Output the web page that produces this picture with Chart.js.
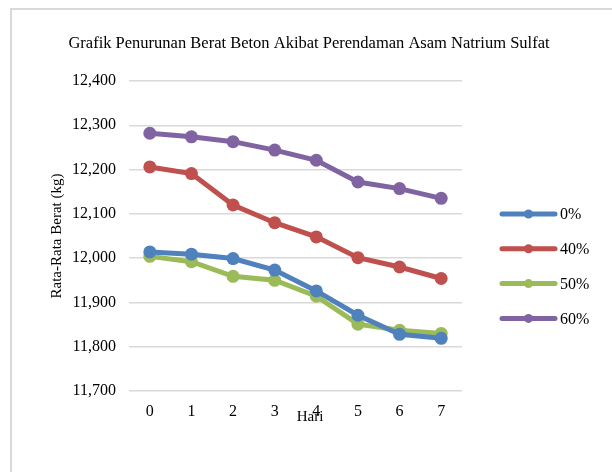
<!DOCTYPE html>
<html>
<head>
<meta charset="utf-8">
<script src="https://cdn.jsdelivr.net/npm/chart.js@4"></script>
<style>
  body { margin: 0; background: #fff; }
  #frame { position: absolute; left: 10px; top: 8px; width: 700px; height: 600px;
           border-top: 2px solid #d9d9d9; border-left: 2px solid #d9d9d9; }
  #wrap { position: absolute; left: 0; top: 0; width: 612px; height: 472px; }
</style>
</head>
<body>
<div id="frame"></div>
<div id="wrap"><canvas id="chart" width="612" height="472"></canvas></div>
<script>
const days = ['0', '1', '2', '3', '4', '5', '6', '7'];
const seriesNames = ['0%', '40%', '50%', '60%'];
const seriesColors = ['#4f81bd', '#c0504d', '#9bbb59', '#8064a2'];
const s0 = [12014, 12009, 11999, 11973, 11926, 11871, 11828, 11819];
const s40 = [12206, 12191, 12120, 12080, 12048, 12001, 11980, 11954];
const s50 = [12004, 11992, 11959, 11950, 11914, 11851, 11837, 11830];
const s60 = [12282, 12274, 12263, 12244, 12221, 12172, 12157, 12135];
const values = [s0, s40, s50, s60];

const chartTitle = 'Grafik Penurunan Berat Beton Akibat Perendaman Asam Natrium Sulfat';
const xTitle = 'Hari';
const font = 'Liberation Serif';

// title, x title and legend drawn by hand so they sit where the spreadsheet put them
const extras = {
  id: 'extras',
  afterDraw(chart) {
    const c = chart.ctx;
    c.save();
    c.fillStyle = '#000';
    c.textAlign = 'center';
    c.textBaseline = 'middle';
    c.font = '16.5px "' + font + '"';
    c.fillText(chartTitle, 309, 44);
    c.font = '15px "' + font + '"';
    c.fillText(xTitle, 310, 417);
    c.restore();

    chart.data.datasets.forEach((ds, i) => {
      const y = 214 + i * 34.8;
      c.save();
      c.strokeStyle = ds.borderColor;
      c.lineWidth = 5;
      c.lineCap = 'round';
      c.beginPath();
      c.moveTo(502, y);
      c.lineTo(555, y);
      c.stroke();
      c.fillStyle = ds.borderColor;
      c.beginPath();
      c.arc(528.5, y, 4.5, 0, Math.PI * 2);
      c.fill();
      c.fillStyle = '#000';
      c.font = '16px "' + font + '"';
      c.textBaseline = 'middle';
      c.fillText(ds.label, 560, y + 1);
      c.restore();
    });
  }
};

new Chart(document.getElementById('chart'), {
  type: 'line',
  data: {
    labels: days,
    datasets: values.map((v, i) => ({
      label: seriesNames[i],
      data: v,
      borderColor: seriesColors[i],
      backgroundColor: seriesColors[i],
      borderWidth: 5,
      pointRadius: 6.5,
      pointHoverRadius: 6.5,
      pointBorderWidth: 0,
      tension: 0
    }))
  },
  options: {
    responsive: false,
    animation: false,
    locale: 'en-US',
    layout: { padding: { left: 46, right: 150, top: 81, bottom: 47 } },
    plugins: {
      legend: { display: false },
      tooltip: { enabled: false },
      title: { display: false }
    },
    scales: {
      x: {
        offset: true,
        grid: { display: false, drawTicks: false },
        border: { display: false },
        ticks: { color: '#000', padding: 11, font: { family: font, size: 16 } },
        afterFit: s => { s.height = 34; }
      },
      y: {
        min: 11700,
        max: 12400,
        ticks: { stepSize: 100, color: '#000', padding: 13, font: { family: font, size: 16 } },
        grid: { color: '#d9d9d9', lineWidth: 1.5, drawTicks: false },
        border: { display: false },
        title: {
          display: true, text: 'Rata-Rata Berat (kg)', color: '#000',
          font: { family: font, size: 15, lineHeight: 1.2 },
          padding: 2
        },
        afterFit: s => { s.width = 83; }
      }
    }
  },
  plugins: [extras]
});
</script>
</body>
</html>
